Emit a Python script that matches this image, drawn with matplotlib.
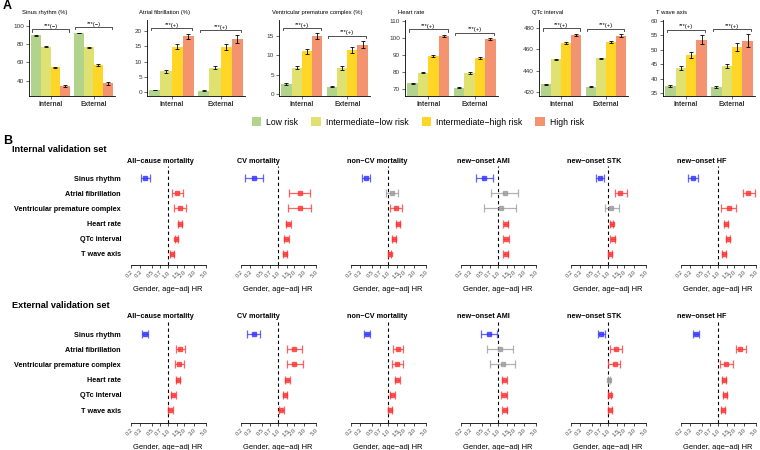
import numpy as np
import matplotlib
matplotlib.use("Agg")
import matplotlib.pyplot as plt
from matplotlib.patches import Patch

plt.rcParams['font.family'] = ['Liberation Sans', 'DejaVu Sans']

W, H = 760, 450


def box(x0, y0, x1, y1):
    # pixel box (top-left origin) -> figure fraction
    return [x0 / W, 1 - y1 / H, (x1 - x0) / W, (y1 - y0) / H]


# ---------------- panel A data ----------------
groups = ['Internal', 'External']
risk_levels = ['Low risk', 'Intermediate\u2212low risk', 'Intermediate\u2212high risk', 'High risk']
risk_colors = ['#B2D38C', '#DFE270', '#FFD526', '#F4936F']

bar_titles = ['Sinus rhythm (%)', 'Atrial fibrillation (%)', 'Ventricular premature complex (%)',
              'Heart rate', 'QTc interval', 'T wave axis']

sinus_vals = [[90.0, 77.5, 54.5, 34.0], [92.5, 76.5, 57.0, 37.0]]
sinus_err = [[0.4, 0.5, 0.8, 1.2], [0.4, 0.7, 1.0, 1.5]]
af_vals = [[0.7, 6.8, 14.8, 18.2], [0.5, 8.0, 14.8, 17.3]]
af_err = [[0.1, 0.4, 0.8, 0.9], [0.1, 0.5, 0.9, 1.2]]
vpc_vals = [[2.6, 6.8, 11.0, 14.8], [1.9, 6.7, 11.4, 12.7]]
vpc_err = [[0.15, 0.35, 0.6, 0.8], [0.12, 0.5, 0.8, 0.9]]
hr_vals = [[73.5, 79.7, 89.3, 101.3], [70.9, 79.5, 88.3, 99.2]]
hr_err = [[0.2, 0.3, 0.5, 0.6], [0.3, 0.4, 0.5, 0.7]]
qtc_vals = [[427.5, 450.5, 465.5, 473.0], [425.0, 451.5, 466.5, 472.5]]
qtc_err = [[0.5, 0.6, 0.9, 1.2], [0.5, 0.7, 1.0, 1.6]]
twave_vals = [[37.5, 43.8, 48.2, 53.5], [37.2, 44.5, 51.0, 53.2]]
twave_err = [[0.4, 0.7, 1.1, 1.6], [0.4, 0.8, 1.4, 2.2]]

sig_labels = ['***(\u2212)', '***(+)', '***(+)', '***(+)', '***(+)', '***(+)']
bar_ylims = [(23, 106.7), (-1.2, 23.5), (-0.5, 19.0), (66, 110.5), (416.5, 487), (34.1, 60.3)]
bar_yticks = [[40, 60, 80, 100], [0, 5, 10, 15, 20], [0, 5, 10, 15],
              [70, 80, 90, 100, 110], [420, 440, 460, 480], [35, 40, 45, 50, 55, 60]]

# ---------------- panel B data ----------------
features = ['Sinus rhythm', 'Atrial fibrillation', 'Ventricular premature complex',
            'Heart rate', 'QTc interval', 'T wave axis']
outcomes = ['All\u2212cause mortality', 'CV mortality', 'non\u2212CV mortality',
            'new\u2212onset AMI', 'new\u2212onset STK', 'new\u2212onset HF']

# one row per outcome, one value per feature
int_hr = [[0.38, 1.48, 1.69, 1.69, 1.44, 1.19],
          [0.36, 2.54, 2.54, 1.56, 1.43, 1.35],
          [0.39, 1.17, 1.39, 1.56, 1.31, 1.07],
          [0.56, 1.33, 1.12, 1.39, 1.41, 1.39],
          [0.71, 1.68, 1.15, 1.17, 1.22, 1.09],
          [0.34, 3.70, 1.61, 1.41, 1.54, 1.30]]
int_lo = [[0.32, 1.17, 1.32, 1.55, 1.35, 1.10],
          [0.245, 1.63, 1.54, 1.41, 1.30, 1.23],
          [0.33, 0.90, 1.07, 1.44, 1.21, 1.01],
          [0.39, 0.74, 0.56, 1.24, 1.24, 1.24],
          [0.60, 1.33, 0.89, 1.08, 1.11, 1.01],
          [0.28, 2.89, 1.15, 1.29, 1.41, 1.19]]
int_hi = [[0.46, 1.89, 2.13, 1.85, 1.52, 1.28],
          [0.52, 3.97, 4.21, 1.72, 1.57, 1.49],
          [0.46, 1.54, 1.83, 1.68, 1.41, 1.15],
          [0.82, 2.37, 2.14, 1.55, 1.58, 1.55],
          [0.84, 2.24, 1.58, 1.26, 1.33, 1.18],
          [0.42, 4.79, 2.20, 1.54, 1.70, 1.41]]

ext_hr = [[0.376, 1.68, 1.63, 1.54, 1.24, 1.11],
          [0.355, 2.02, 2.02, 1.50, 1.33, 1.15],
          [0.41, 1.56, 1.50, 1.50, 1.21, 1.09],
          [0.67, 1.11, 1.24, 1.31, 1.29, 1.33],
          [0.75, 1.41, 1.33, 1.04, 1.07, 1.09],
          [0.39, 2.62, 1.43, 1.31, 1.35, 1.24]]
ext_lo = [[0.33, 1.41, 1.35, 1.41, 1.13, 1.01],
          [0.27, 1.50, 1.47, 1.37, 1.23, 1.05],
          [0.355, 1.26, 1.19, 1.37, 1.10, 1.01],
          [0.48, 0.63, 0.71, 1.17, 1.15, 1.19],
          [0.64, 1.09, 1.02, 0.99, 1.01, 1.02],
          [0.34, 2.14, 1.11, 1.19, 1.23, 1.13]]
ext_hi = [[0.43, 2.05, 1.99, 1.69, 1.38, 1.24],
          [0.47, 2.86, 2.94, 1.68, 1.47, 1.29],
          [0.46, 1.94, 1.88, 1.64, 1.33, 1.21],
          [0.94, 1.91, 2.08, 1.47, 1.45, 1.49],
          [0.89, 1.80, 1.70, 1.09, 1.15, 1.17],
          [0.45, 3.29, 1.88, 1.43, 1.50, 1.35]]

hr_ticks = [0.2, 0.3, 0.5, 0.7, 1.0, 1.5, 2.0, 3.0, 5.0]

fig = plt.figure(figsize=(7.6, 4.5), dpi=100)

# ---------------- panel A: bars ----------------
bar_x = [(29, 115), (147, 245), (279, 370), (405, 498), (539, 628), (663, 755)]
all_vals = [sinus_vals, af_vals, vpc_vals, hr_vals, qtc_vals, twave_vals]
all_err = [sinus_err, af_err, vpc_err, hr_err, qtc_err, twave_err]
bw = 0.225

for i in range(6):
    ax = fig.add_axes(box(bar_x[i][0], 20, bar_x[i][1], 96))
    vals = np.array(all_vals[i])
    errs = np.array(all_err[i])
    lo, hi = bar_ylims[i]
    rng = hi - lo
    for g in range(2):
        for k in range(4):
            xc = g + 1 + (k - 1.5) * bw
            ax.bar(xc, vals[g, k] - lo, bottom=lo, width=bw, color=risk_colors[k], linewidth=0)
            ax.errorbar(xc, vals[g, k], yerr=errs[g, k], color='black', lw=0.6,
                        capsize=1.6, capthick=0.6)
        # significance bracket
        top = (vals[g] + errs[g]).max() + 0.07 * rng
        x0, x1 = g + 1 - 0.42, g + 1 + 0.42
        ax.plot([x0, x0, x1, x1], [top - 0.03 * rng, top, top, top - 0.03 * rng],
                color='#333333', lw=0.6, clip_on=False)
        ax.text(g + 1, top + 0.005 * rng, sig_labels[i], ha='center', va='bottom', fontsize=4.2)
    ax.set_xlim(0.5, 2.5)
    ax.set_ylim(lo, hi)
    ax.set_yticks(bar_yticks[i])
    ax.set_xticks([1, 2])
    ax.set_xticklabels(groups, fontweight='bold', fontsize=4.8)
    ax.tick_params(axis='both', length=2, width=0.5, pad=1.5, colors='#333333')
    ax.tick_params(axis='y', labelsize=4.6)
    for s in ['top', 'right']:
        ax.spines[s].set_visible(False)
    for s in ['left', 'bottom']:
        ax.spines[s].set_linewidth(0.6)
    ax.text(-0.08, 1.07, bar_titles[i], transform=ax.transAxes, fontsize=4.2, ha='left', va='bottom')

handles = [Patch(facecolor=c, edgecolor='none') for c in risk_colors]
fig.legend(handles, risk_levels, ncol=4, loc='center', bbox_to_anchor=(418 / W, 1 - 122 / H),
           frameon=False, fontsize=6.2, handlelength=1.1, handleheight=1.1,
           handletextpad=0.6, columnspacing=1.5)

fig.text(3 / W, 1 - 6 / H, 'A', fontsize=9, fontweight='bold', va='center')
fig.text(3 / W, 1 - 141 / H, 'B', fontsize=9, fontweight='bold', va='center')

# ---------------- panel B: forest plots ----------------
rows = np.arange(6, 0, -1)
sets = [('Internal validation set', int_hr, int_lo, int_hi, 150, 166, 265, 0.276),
        ('External validation set', ext_hr, ext_lo, ext_hi, 306, 322, 423, 0.145)]

for name, hrs, los, his, ty, y_top, y_bot, ybottom in sets:
    fig.text(12 / W, 1 - ty / H, name, fontsize=6.6, fontweight='bold', va='center')
    for j in range(6):
        left = 130.5 + 110 * j
        ax = fig.add_axes(box(left, y_top, left + 75, y_bot))
        ax.set_xscale('log')
        ax.axvline(1.0, color='black', lw=0.8, ls=(0, (3, 2.5)))
        for k in range(6):
            h, l, u = hrs[j][k], los[j][k], his[j][k]
            if l > 1:
                col = '#FF3030'
            elif u < 1:
                col = '#3030FF'
            else:
                col = '#999999'
            ax.errorbar(h, rows[k], xerr=[[h - l], [u - h]], fmt='s', color=col, ms=3.4,
                        elinewidth=0.9, capsize=2.6, capthick=0.9, alpha=0.75)
        ax.set_xlim(0.2, 5)
        ax.set_ylim(ybottom, 6.79)
        ax.set_xticks(hr_ticks)
        ax.set_xticklabels(['%.1f' % t for t in hr_ticks], rotation=45, ha='right',
                           rotation_mode='anchor', fontsize=4.2, color='#4D4D4D')
        ax.minorticks_off()
        ax.tick_params(axis='x', length=2, width=0.5, pad=1.5)
        if j == 0:
            ax.set_yticks(rows)
            ax.set_yticklabels(features, fontsize=5.2, fontweight='bold')
            ax.tick_params(axis='y', length=0, pad=6.8)
        else:
            ax.set_yticks([])
        for s in ['top', 'right', 'left']:
            ax.spines[s].set_visible(False)
        ax.spines['bottom'].set_linewidth(0.6)
        ax.set_xlabel('Gender, age\u2212adj HR', fontsize=5.4, labelpad=5)
        ax.text(-0.05, 1.05, outcomes[j], transform=ax.transAxes, fontsize=5.2,
                fontweight='bold', ha='left', va='center')

fig.savefig('out.png', dpi=100)
